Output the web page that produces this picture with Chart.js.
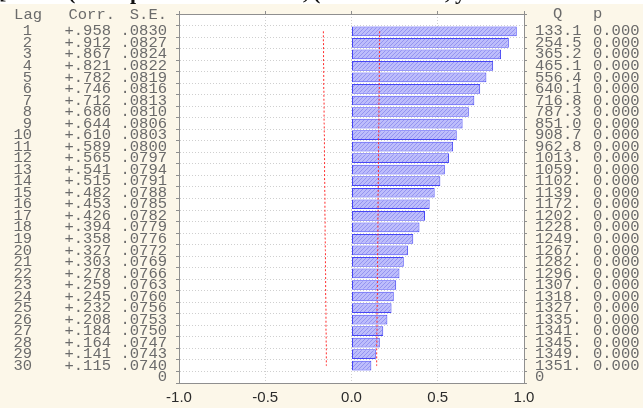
<!DOCTYPE html>
<html>
<head>
<meta charset="utf-8">
<script src="https://cdn.jsdelivr.net/npm/chart.js@4"></script>
<style>
html,body{margin:0;padding:0;background:#fcf7e9;}
#wrap{width:643px;height:408px;position:relative;}
</style>
</head>
<body>
<div id="wrap"><canvas id="c"></canvas></div>
<script>
// ---- data ----
const lags = [1,2,3,4,5,6,7,8,9,10,11,12,13,14,15,16,17,18,19,20,21,22,23,24,25,26,27,28,29,30];
const corr = [.958,.912,.867,.821,.782,.746,.712,.680,.644,.610,.589,.565,.541,.515,.482,
              .453,.426,.394,.358,.327,.303,.278,.259,.245,.232,.208,.184,.164,.141,.115];
const se = [".0830",".0827",".0824",".0822",".0819",".0816",".0813",".0810",".0806",".0803",
            ".0800",".0797",".0794",".0791",".0788",".0785",".0782",".0779",".0776",".0772",
            ".0769",".0766",".0763",".0760",".0756",".0753",".0750",".0747",".0743",".0740"];
const qStat = ["133.1","254.5","365.2","465.1","556.4","640.1","716.8","787.3","851.0","908.7",
               "962.8","1013.","1059.","1102.","1139.","1172.","1202.","1228.","1249.","1267.",
               "1282.","1296.","1307.","1318.","1327.","1335.","1341.","1345.","1349.","1351."];
const pVal = ["0.000","0.000","0.000","0.000","0.000","0.000","0.000","0.000","0.000","0.000",
              "0.000","0.000","0.000","0.000","0.000","0.000","0.000","0.000","0.000","0.000",
              "0.000","0.000","0.000","0.000","0.000","0.000","0.000","0.000","0.000","0.000"];
const upperLimit = [.163,.162,.162,.161,.161,.160,.159,.159,.158,.157,.157,.156,.156,.155,.154,
                    .154,.153,.153,.152,.151,.151,.150,.150,.149,.148,.148,.147,.146,.146,.145];
const lowerLimit = [-.163,-.162,-.162,-.161,-.161,-.160,-.159,-.159,-.158,-.157,-.157,-.156,-.156,-.155,-.154,
                    -.154,-.153,-.153,-.152,-.151,-.151,-.150,-.150,-.149,-.148,-.148,-.147,-.146,-.146,-.145];
const xTicks = [-1.0,-0.5,0.0,0.5,1.0];
const headers = {lag:"Lag", corr:"Corr.", se:"S.E.", q:"Q", p:"p"};
const zeroLabel = "0";
const cropped = [["[",-1],["(",68],["p",130],[",",303],["(",313],[",",445],["y",455]];

// ---- styling ----
const MONO = "'Liberation Mono', 'DejaVu Sans Mono', monospace";
const TXT = "#6b6b6b";
const monoFont = {family: MONO, size: 15.5};
const GRID = "#cfcfcf";
const FRAME = "#8f8f8f";

function hatch(){
  const c = document.createElement('canvas'); c.width = 4; c.height = 4;
  const g = c.getContext('2d');
  g.fillStyle = '#bdbdfb'; g.fillRect(0,0,4,4);
  g.fillStyle = '#9494f1';
  g.fillRect(0,3,1,1); g.fillRect(1,2,1,1); g.fillRect(2,1,1,1); g.fillRect(3,0,1,1);
  return g.createPattern(c,'repeat');
}

const N = lags.length;
const yMax = N + 1;
function fullTicks(scale){
  const t = [];
  for (let i = 0; i <= yMax; i++) t.push({value: i});
  scale.ticks = t;
}
function colLabel(arr, showZero){
  return function(v){
    if (v === yMax) return showZero ? zeroLabel : '';
    if (v >= 1 && v <= N) return arr[v-1];
    return '';
  };
}
function noPadV(s){ s.paddingTop = 0; s.paddingBottom = 0; }
function noPadH(s){ s.paddingLeft = 0; s.paddingRight = 0; }
function yAxis(position, weight, width, arr, showZero, opts){
  return Object.assign({
    type: 'linear', position, weight, min: 0, max: yMax, reverse: true,
    afterBuildTicks: fullTicks,
    afterFit: s => { s.width = width; noPadV(s); },
    ticks: {autoSkip: false, font: monoFont, color: TXT, callback: colLabel(arr, showZero), padding: 5},
    grid: {display: false, drawTicks: false},
    border: {display: false}
  }, opts || {});
}

const corrLabels = corr.map(v => '+' + v.toFixed(3).slice(1));
const lagLabels = lags.map(String);

const bgPlugin = {
  id: 'bg',
  beforeDraw(chart){
    const {ctx, chartArea: a} = chart;
    ctx.save();
    ctx.fillStyle = '#fcf7e9';
    ctx.fillRect(0,0,chart.width,chart.height);
    ctx.fillStyle = '#ffffff';
    ctx.fillRect(0,0,chart.width,4);
    ctx.fillRect(a.left,a.top,a.right-a.left,a.bottom-a.top);
    ctx.restore();
    ctx.save();
    ctx.beginPath();
    ctx.rect(0,0,chart.width,4.5);
    ctx.clip();
    ctx.fillStyle = '#111';
    ctx.font = "bold 22px 'Liberation Serif', serif";
    ctx.textAlign = 'left';
    ctx.textBaseline = 'alphabetic';
    cropped.forEach(([t,x]) => ctx.fillText(t, x, -1));
    ctx.restore();
  },
  afterDraw(chart){
    const {ctx, scales} = chart;
    ctx.save();
    ctx.font = "15.5px " + MONO;
    ctx.fillStyle = TXT;
    ctx.textBaseline = 'middle';
    const y = 14.5;
    ctx.textAlign = 'right';
    ctx.fillText(headers.lag, scales.lag.right - 8 + 10, y + 0.5);
    ctx.fillText(headers.corr, scales.corr.right - 1, y + 0.5);
    ctx.fillText(headers.se, scales.se.right - 12, y + 0.5);
    ctx.textAlign = 'left';
    ctx.fillText(headers.q, scales.q.left + 29, y - 1);
    ctx.fillText(headers.p, scales.p.left + 3, y - 1);
    ctx.restore();
  }
};

new Chart(document.getElementById('c'), {
  type: 'bar',
  data: {
    datasets: [
      {
        type: 'bar', order: 2,
        data: lags.map((l,i) => ({x: corr[i], y: l})),
        xAxisID: 'x', yAxisID: 'se',
        backgroundColor: hatch(), borderColor: '#4646f5', borderWidth: 1,
        borderSkipped: false, categoryPercentage: 0.84, barPercentage: 1
      },
      {
        type: 'line', order: 1,
        data: lags.map((l,i) => ({x: upperLimit[i], y: l})),
        xAxisID: 'x', yAxisID: 'se',
        borderColor: '#ff2b2b', borderWidth: 1, borderDash: [2,2],
        pointRadius: 0, stepped: 'after', fill: false
      },
      {
        type: 'line', order: 1,
        data: lags.map((l,i) => ({x: lowerLimit[i], y: l})),
        xAxisID: 'x', yAxisID: 'se',
        borderColor: '#ff2b2b', borderWidth: 1, borderDash: [2,2],
        pointRadius: 0, stepped: 'after', fill: false
      }
    ]
  },
  options: {
    indexAxis: 'y',
    responsive: true, maintainAspectRatio: false,
    animation: false, devicePixelRatio: 1,
    layout: {padding: 0},
    plugins: {legend: {display: false}, tooltip: {enabled: false}, title: {display: false}},
    scales: {
      x: {
        type: 'linear', position: 'bottom', min: -1, max: 1,
        afterBuildTicks: s => { s.ticks = xTicks.map(v => ({value: v})); },
        afterFit: s => { s.height = 25; noPadH(s); },
        ticks: {font: {family: "'Liberation Sans', Arial, sans-serif", size: 15}, color: '#2b2b2b',
                padding: 6, callback: v => v.toFixed(1), maxRotation: 0, autoSkip: false},
        grid: {color: GRID, drawTicks: false},
        border: {display: true, color: FRAME, width: 1, dash: [1,2]}
      },
      x2: {
        type: 'linear', position: 'top', min: -1, max: 1,
        afterBuildTicks: s => { s.ticks = xTicks.map(v => ({value: v})); },
        afterFit: s => { s.height = 14; noPadH(s); },
        ticks: {display: false},
        grid: {drawOnChartArea: false, drawTicks: true, tickLength: 3, tickColor: FRAME},
        border: {display: true, color: FRAME, width: 1}
      },
      se: yAxis('left', 1, 63, se, true, {
        afterFit: s => { s.width = 63; noPadV(s); },
        ticks: {autoSkip: false, font: monoFont, color: TXT, callback: colLabel(se, true), padding: 9},
        grid: {display: true, drawOnChartArea: true, drawTicks: true, tickLength: 3, color: GRID, tickColor: FRAME},
        border: {display: true, color: FRAME, width: 1, dash: [1,2]}
      }),
      corr: yAxis('left', 2, 76, corrLabels, false, {
        ticks: {autoSkip: false, font: monoFont, color: TXT, callback: colLabel(corrLabels, false), padding: 5}
      }),
      lag: yAxis('left', 3, 40, lagLabels, false, {
        ticks: {autoSkip: false, font: monoFont, color: TXT, callback: colLabel(lagLabels, false), padding: 8}
      }),
      q: yAxis('right', 1, 66, qStat, true, {
        afterFit: s => { s.width = 66; noPadV(s); },
        ticks: {autoSkip: false, font: monoFont, color: TXT, callback: colLabel(qStat, true), padding: 8},
        grid: {display: true, drawOnChartArea: false, drawTicks: true, tickLength: 3, tickColor: FRAME},
        border: {display: true, color: FRAME, width: 1}
      }),
      p: yAxis('right', 2, 53, pVal, false, {
        ticks: {autoSkip: false, font: monoFont, color: TXT, callback: colLabel(pVal, false), padding: 3}
      })
    }
  },
  plugins: [bgPlugin]
});
</script>
</body>
</html>
